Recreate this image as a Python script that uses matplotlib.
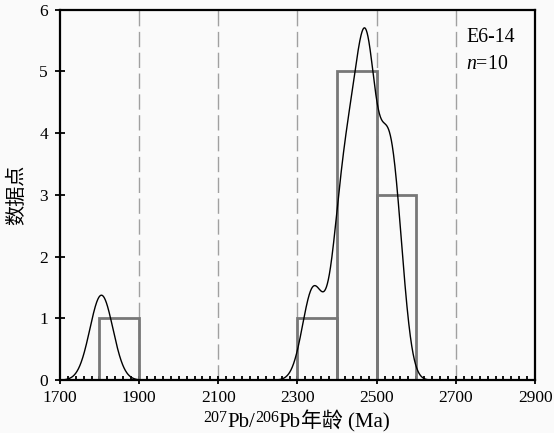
import numpy as np
import matplotlib
matplotlib.use('Agg')
import matplotlib.pyplot as plt
from matplotlib.ticker import MultipleLocator

ages = [1805, 2340, 2405, 2428, 2452, 2466, 2480, 2508, 2530, 2550]
sigma = [29, 27, 24, 24, 23, 23, 20, 24, 24, 24]
bin_edges = [1800, 1900, 2000, 2100, 2200, 2300, 2400, 2500, 2600]
grid_x = [1900, 2100, 2300, 2500, 2700]
sample = 'E6-14'
n_label = '$n$=10'

plt.rcParams['font.family'] = ['Liberation Serif', 'Noto Sans CJK SC']
plt.rcParams['mathtext.fontset'] = 'custom'
plt.rcParams['mathtext.rm'] = 'Liberation Serif'
plt.rcParams['mathtext.it'] = 'Liberation Serif:italic'

bg = '#fafafa'
W, H = 554, 433
fig = plt.figure(figsize=(W / 100, H / 100), dpi=100, facecolor=bg)
ax = fig.add_axes([0.108, 0.122, 0.858, 0.856])
ax.set_facecolor(bg)

for g in grid_x:
    ax.axvline(g, color='#a0a0a0', lw=1.0, ls=(0, (11, 4)), zorder=0)

counts, _ = np.histogram(ages, bins=bin_edges)
for left, right, c in zip(bin_edges[:-1], bin_edges[1:], counts):
    if c > 0:
        ax.bar(left, c, width=right - left, align='edge', fill=False,
               edgecolor='#777777', linewidth=2, zorder=2)

# probability density curve, each age as a gaussian scaled to the bin width
x = np.linspace(1700, 2900, 2400)
y = np.zeros_like(x)
for a, s in zip(ages, sigma):
    y += 100 / (s * np.sqrt(2 * np.pi)) * np.exp(-0.5 * ((x - a) / s) ** 2)
ax.plot(x, y, color='black', lw=1.0, zorder=3)

ax.set_xlim(1700, 2900)
ax.set_ylim(0, 6)
ax.xaxis.set_major_locator(MultipleLocator(200, offset=100))
ax.xaxis.set_minor_locator(MultipleLocator(20))
ax.yaxis.set_major_locator(MultipleLocator(1))
ax.tick_params(axis='x', which='major', direction='inout', length=6, width=1.3,
               labelsize=12.5, pad=4)
ax.tick_params(axis='x', which='minor', direction='in', length=3, width=1.3)
ax.tick_params(axis='y', which='major', direction='inout', length=7, width=1.3,
               labelsize=12.5, pad=5)
for sp in ax.spines.values():
    sp.set_linewidth(1.6)

ax.set_ylabel('数据点', fontsize=14.5, family='Noto Sans CJK SC', labelpad=9)

# x label built piece by piece so the superscripts stay large
pieces = [('207', 11.5, 5), ('Pb/', 15, 0), ('206', 11.5, 5), ('Pb', 15, 0),
          ('年龄 (Ma)', 15, 0)]
renderer = fig.canvas.get_renderer()
cursor = 203
baseline = 6
for txt, size, raise_px in pieces:
    t = fig.text(cursor / W, (baseline + raise_px) / H, txt, fontsize=size,
                 va='baseline', ha='left')
    cursor += t.get_window_extent(renderer).width

ax.text(0.855, 0.951, sample, transform=ax.transAxes, fontsize=14.3, va='top')
ax.text(0.855, 0.878, n_label, transform=ax.transAxes, fontsize=14.3, va='top')

fig.savefig('out.png', dpi=100, facecolor=fig.get_facecolor())
